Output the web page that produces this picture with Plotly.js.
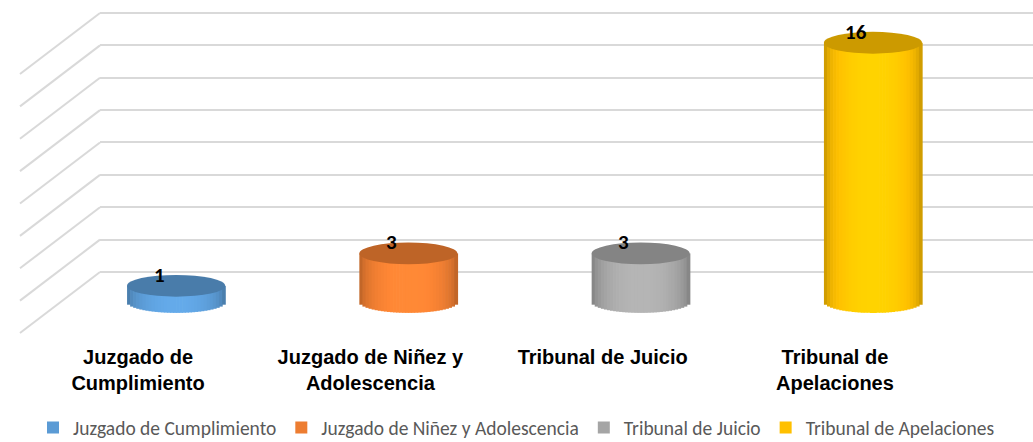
<!DOCTYPE html>
<html>
<head>
<meta charset="utf-8">
<script src="https://cdn.plot.ly/plotly-3.0.1.min.js"></script>
<style>html,body{margin:0;padding:0;background:#fff;}#chart{width:1033px;height:442px;}</style>
</head>
<body>
<div id="chart"></div>
<script>
// ---- data ----
const categories = ['Juzgado de Cumplimiento', 'Juzgado de Niñez y Adolescencia', 'Tribunal de Juicio', 'Tribunal de Apelaciones'];
const values = [1, 3, 3, 16];
const tickLabels = ['Juzgado de<br>Cumplimiento', 'Juzgado de Niñez y<br>Adolescencia', 'Tribunal de Juicio', 'Tribunal de<br>Apelaciones'];
const seriesColors = ['#5B9BD5', '#ED7D31', '#A5A5A5', '#FFC000'];
const wallTicks = [0, 2, 4, 6, 8, 10, 12, 14, 16];

// ---- style helpers ----
function shade(hex, f) {
  const n = parseInt(hex.slice(1), 16);
  const r = Math.min(255, Math.round(((n >> 16) & 255) * f));
  const g = Math.min(255, Math.round(((n >> 8) & 255) * f));
  const b = Math.min(255, Math.round((n & 255) * f));
  return 'rgb(' + r + ',' + g + ',' + b + ')';
}

const W = 0.422;      // cylinder width in category units
const E = 0.673;      // ellipse half-height in value units (front axis)
const N = 32;         // slices for shading
const depthDrop = 3.77; // side-wall diagonal drop in wall units

const traces = [];
// invisible trace so the wall subplot exists
traces.push({type: 'scatter', x: [0], y: [0], xaxis: 'x', yaxis: 'y', mode: 'markers',
  marker: {opacity: 0}, showlegend: false, hoverinfo: 'skip'});

for (let k = 0; k < N; k++) {
  const t = -1 + (2 * k + 1) / N;
  const s = Math.sqrt(Math.max(0, 1 - t * t));
  const f = 0.68 + 0.42 * Math.pow(s, 0.8);
  const drop = E * s;
  traces.push({
    type: 'bar', xaxis: 'x2', yaxis: 'y2',
    x: categories,
    y: values.map(v => v + drop),
    base: values.map(() => -drop),
    width: W / N + 0.003,
    offset: -W / 2 + k * W / N,
    marker: {color: seriesColors.map(c => shade(c, f)), line: {width: 0}},
    showlegend: false, hoverinfo: 'skip'
  });
}
// legend entries
categories.forEach((c, i) => {
  traces.push({type: 'bar', xaxis: 'x2', yaxis: 'y2', x: [c], y: [0], name: c,
    marker: {color: seriesColors[i], line: {width: 0}}, hoverinfo: 'skip'});
});

const shapes = [];
wallTicks.forEach(v => {
  shapes.push({type: 'line', xref: 'paper', yref: 'y', x0: 100 / 1033, y0: v, x1: 20 / 1033, y1: v - depthDrop,
    line: {color: '#d9d9d9', width: 2}, layer: 'below'});
});
values.forEach((v, i) => {
  shapes.push({type: 'circle', xref: 'x2', yref: 'y2', x0: i - W / 2, x1: i + W / 2, y0: v - E, y1: v + E,
    fillcolor: shade(seriesColors[i], 0.8), line: {width: 0}, layer: 'above'});
});

const annotations = values.map((v, i) => ({
  xref: 'x2', yref: 'y2', x: categories[i], y: v, text: String(v), showarrow: false,
  xshift: -17, yshift: 11,
  font: {family: 'Carlito, Calibri, Lato, sans-serif', size: 21, color: '#000', weight: 'bold'}
}));

const layout = {
  width: 1033, height: 442,
  margin: {l: 0, r: 0, t: 0, b: 102, autoexpand: false},
  paper_bgcolor: '#ffffff', plot_bgcolor: 'rgba(0,0,0,0)',
  barmode: 'overlay', hovermode: false,
  xaxis: {domain: [100 / 1033, 1], range: [0, 1], visible: false, fixedrange: true},
  yaxis: {anchor: 'x', range: [-4.2, 16.8], tickvals: wallTicks, showgrid: true, gridcolor: '#d9d9d9', gridwidth: 2,
    zeroline: false, showticklabels: false, ticks: '', showline: false, fixedrange: true},
  xaxis2: {type: 'category', anchor: 'y2', domain: [0, 1], range: [-0.758, 3.689],
    tickvals: categories, ticktext: tickLabels, ticklabelshift: -38, ticklabelstandoff: 3,
    tickfont: {family: 'Liberation Sans, Arial, sans-serif', size: 20, color: '#000', weight: 'bold'},
    showgrid: false, zeroline: false, showline: false, ticks: '', fixedrange: true},
  yaxis2: {anchor: 'x2', domain: [0, 1], range: [-2.346, 18.64], visible: false, fixedrange: true},
  shapes: shapes,
  annotations: annotations,
  showlegend: true,
  legend: {orientation: 'h', x: 0.5, xanchor: 'center', y: -0.258, yanchor: 'middle',
    font: {family: 'Carlito, Calibri, Lato, sans-serif', size: 19.5, color: '#595959'},
    itemwidth: 30, traceorder: 'normal'}
};

Plotly.newPlot('chart', traces, layout, {displayModeBar: false, staticPlot: true});
</script>
</body>
</html>
